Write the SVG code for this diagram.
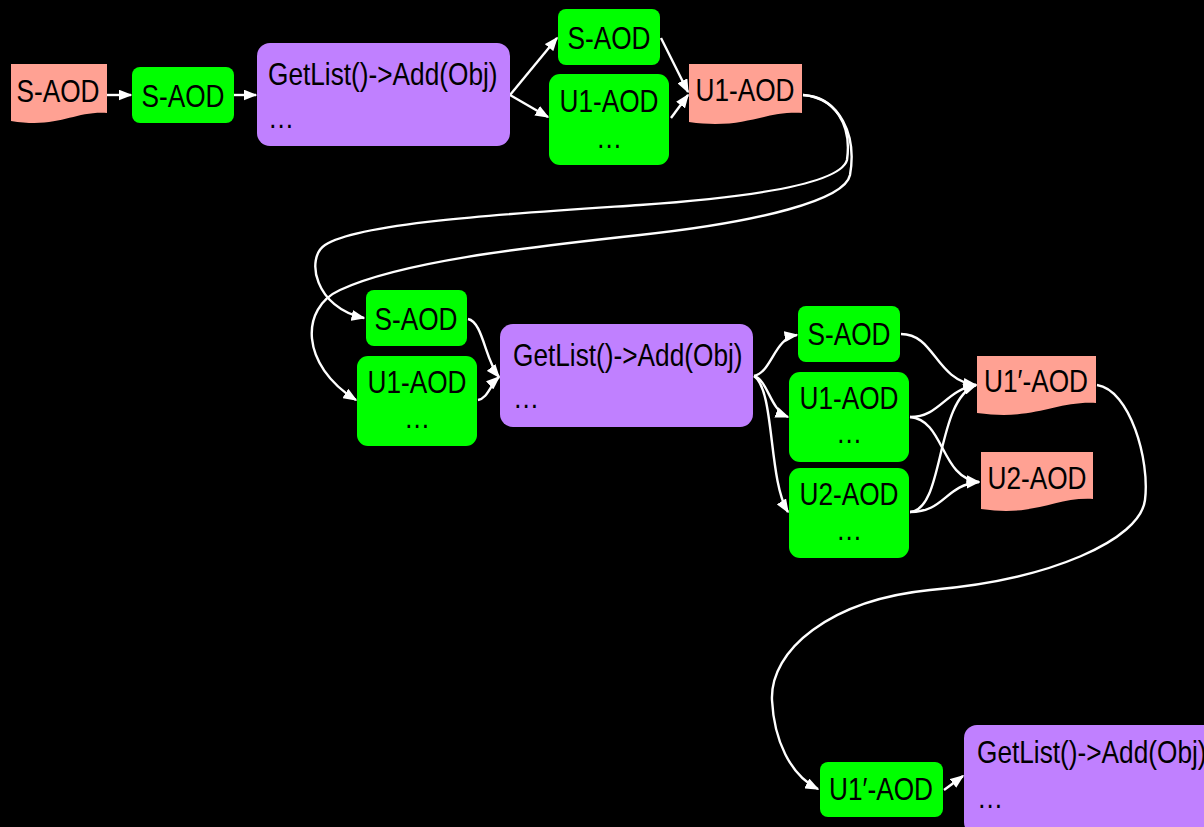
<svg xmlns="http://www.w3.org/2000/svg" width="1204" height="827" viewBox="0 0 1204 827">
  <style>
    text { font-family: "Liberation Sans", Arial, sans-serif; font-size: 32px; fill: #000; }
    .c { text-anchor: middle; }
    .doc { fill: #ffa193; }
    .box { fill: #00ff00; }
    .op { fill: #c080ff; }
    .edge { fill: none; stroke: #fff; stroke-width: 2.4; marker-end: url(#arr); }
  </style>
  <defs>
    <marker id="arr" markerUnits="userSpaceOnUse" markerWidth="14" markerHeight="11" refX="12.5" refY="5.5" orient="auto">
      <path d="M0,0 L14,5.5 L0,11 Z" fill="#fff"/>
    </marker>
  </defs>
  <rect width="1204" height="827" fill="#000"/>

  <g id="connectors">
    <path class="edge" d="M107,95 L131,95"/>
    <path class="edge" d="M234,95 L256,95"/>
    <path class="edge" d="M510,95 L557,38"/>
    <path class="edge" d="M510,95 L548,117"/>
    <path class="edge" d="M661,38 L688,92"/>
    <path class="edge" d="M671,118 L688,95"/>
    <path class="edge" d="M803,95 C835,97 852,125 847,160 C840,185 740,198 640,205 C520,213 360,222 325,245 C305,258 315,308 364,318"/>
    <path class="edge" d="M803,95 C840,98 857,135 850,175 C845,200 760,222 640,235 C520,248 400,262 340,290 C300,308 300,365 356,400"/>
    <path class="edge" d="M468,319 C483,322 485,360 499,377"/>
    <path class="edge" d="M478,400 C488,398 490,385 499,377"/>
    <path class="edge" d="M754,376 C772,372 774,338 797,335"/>
    <path class="edge" d="M754,376 C768,380 770,410 788,417"/>
    <path class="edge" d="M754,376 C775,390 768,480 788,512"/>
    <path class="edge" d="M901,334 C935,334 935,380 976,385"/>
    <path class="edge" d="M910,417 C940,417 945,390 976,385"/>
    <path class="edge" d="M910,417 C945,420 940,478 979,482"/>
    <path class="edge" d="M910,512 C945,510 935,400 976,385"/>
    <path class="edge" d="M910,512 C945,512 945,485 979,482"/>
    <path class="edge" d="M1097,385 C1130,390 1150,460 1145,500 C1140,540 1050,580 930,590 C830,600 770,650 772,700 C774,740 790,775 818,789"/>
    <path class="edge" d="M944,790 L963,776"/>
  </g>

  <!-- top row -->
  <g id="n1">
    <path class="doc" d="M11,64 H107 V113 C73,111 59,129 11,121 Z"/>
    <text class="c" transform="translate(58,102) scale(0.82,1)">S-AOD</text>
  </g>
  <g id="n2">
    <rect class="box" x="132" y="67" width="102" height="56" rx="8"/>
    <text class="c" transform="translate(183,107) scale(0.82,1)">S-AOD</text>
  </g>
  <g id="n3">
    <rect class="op" x="257" y="43" width="253" height="103" rx="13"/>
    <text transform="translate(268,85) scale(0.82,1)">GetList()-&gt;Add(Obj)</text>
    <text transform="translate(268,128) scale(0.82,1)">…</text>
  </g>
  <g id="n4">
    <rect class="box" x="558" y="9" width="102" height="56" rx="8"/>
    <text class="c" transform="translate(609,49) scale(0.82,1)">S-AOD</text>
  </g>
  <g id="n5">
    <rect class="box" x="549" y="74" width="120" height="91" rx="11"/>
    <text class="c" transform="translate(609,112) scale(0.82,1)">U1-AOD</text>
    <text class="c" transform="translate(609,148) scale(0.82,1)">…</text>
  </g>
  <g id="n6">
    <path class="doc" d="M689,64 H802 V113 C762,111 745,130 689,122 Z"/>
    <text class="c" transform="translate(745,101) scale(0.82,1)">U1-AOD</text>
  </g>

  <!-- middle row -->
  <g id="n7">
    <rect class="box" x="366" y="290" width="101" height="56" rx="8"/>
    <text class="c" transform="translate(416,330) scale(0.82,1)">S-AOD</text>
  </g>
  <g id="n8">
    <rect class="box" x="357" y="356" width="120" height="90" rx="11"/>
    <text class="c" transform="translate(417,393) scale(0.82,1)">U1-AOD</text>
    <text class="c" transform="translate(417,428) scale(0.82,1)">…</text>
  </g>
  <g id="n9">
    <rect class="op" x="500" y="324" width="253" height="103" rx="13"/>
    <text transform="translate(513,366) scale(0.82,1)">GetList()-&gt;Add(Obj)</text>
    <text transform="translate(513,408) scale(0.82,1)">…</text>
  </g>
  <g id="n10">
    <rect class="box" x="798" y="306" width="102" height="56" rx="8"/>
    <text class="c" transform="translate(849,345) scale(0.82,1)">S-AOD</text>
  </g>
  <g id="n11">
    <rect class="box" x="789" y="372" width="120" height="90" rx="11"/>
    <text class="c" transform="translate(849,409) scale(0.82,1)">U1-AOD</text>
    <text class="c" transform="translate(849,443) scale(0.82,1)">…</text>
  </g>
  <g id="n12">
    <rect class="box" x="789" y="468" width="120" height="90" rx="11"/>
    <text class="c" transform="translate(849,505) scale(0.82,1)">U2-AOD</text>
    <text class="c" transform="translate(849,540) scale(0.82,1)">…</text>
  </g>
  <g id="n13">
    <path class="doc" d="M977,356 H1096 V403 C1054,401 1036,421 977,413 Z"/>
    <text class="c" transform="translate(1036,392) scale(0.82,1)">U1′-AOD</text>
  </g>
  <g id="n14">
    <path class="doc" d="M981,452 H1093 V499 C1054,497 1037,517 981,509 Z"/>
    <text class="c" transform="translate(1037,489) scale(0.82,1)">U2-AOD</text>
  </g>

  <!-- bottom row -->
  <g id="n15">
    <rect class="box" x="820" y="762" width="123" height="55" rx="8"/>
    <text class="c" transform="translate(881,800) scale(0.82,1)">U1′-AOD</text>
  </g>
  <g id="n16">
    <rect class="op" x="964" y="725" width="270" height="110" rx="13"/>
    <text transform="translate(977,763) scale(0.82,1)">GetList()-&gt;Add(Obj)</text>
    <text transform="translate(977,808) scale(0.82,1)">…</text>
  </g>
</svg>
